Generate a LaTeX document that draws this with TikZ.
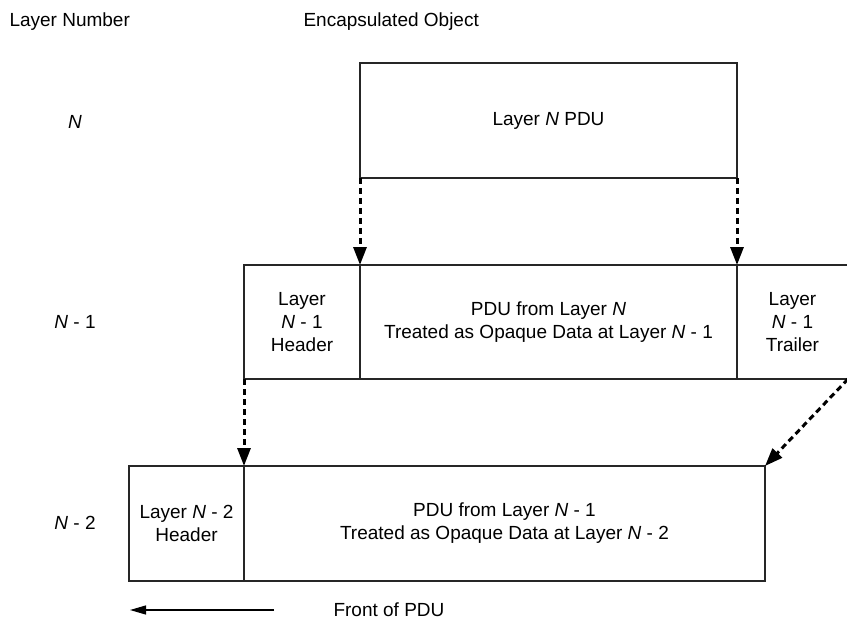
\documentclass[tikz,border=0pt]{standalone}
\usepackage{fontspec}
\setmainfont{Liberation Sans}
\usetikzlibrary{arrows.meta}

\tikzset{
  pdubox/.style={draw=black!85, line width=1.1pt, rectangle, inner sep=0pt,
    outer sep=0pt, anchor=north west, align=center},
  dotarrow/.style={line width=3pt, dash pattern=on 6pt off 4pt,
    -{Triangle[length=18pt,width=13pt]}},
  txt/.style={font=\fontsize{19}{23}\selectfont},
}

\begin{document}
\begin{tikzpicture}[x=1pt,y=-1pt,every node/.style={txt}]
\useasboundingbox (0,0) rectangle (847,622);
% column titles
\node[anchor=west] (titleLayer) at (6,22) {Layer Number};
\node[anchor=west] (titleObj) at (300,22) {Encapsulated Object};
% layer numbers
\node (labN) at (75,122) {\textit{N}};
\node (labNa) at (75,322) {\textit{N} - 1};
\node (labNb) at (75,523) {\textit{N} - 2};
% layer N
\node[pdubox, minimum width=377pt, minimum height=115pt] (layerN) at (360,63) {Layer \textit{N} PDU};
% layer N-1
\node[pdubox, minimum width=116pt, minimum height=114pt] (hdrA) at (244,265) {Layer\\\textit{N} - 1\\Header};
\node[pdubox, minimum width=377pt, minimum height=114pt] (bodyA) at (360,265) {PDU from Layer \textit{N}\\Treated as Opaque Data at Layer \textit{N} - 1};
\node[pdubox, minimum width=111pt, minimum height=114pt] (trlA) at (737,265) {Layer\\\textit{N} - 1\\Trailer};
% layer N-2
\node[pdubox, minimum width=115pt, minimum height=115pt] (hdrB) at (129,466) {Layer \textit{N} - 2\\Header};
\node[pdubox, minimum width=521pt, minimum height=115pt] (bodyB) at (244,466) {PDU from Layer \textit{N} - 1\\Treated as Opaque Data at Layer \textit{N} - 2};
% encapsulation arrows
\draw[dotarrow] (layerN.south west) -- (bodyA.north west);
\draw[dotarrow] (layerN.south east) -- (bodyA.north east);
\draw[dotarrow] (hdrA.south west) -- (bodyB.north west);
\draw[dotarrow] (trlA.south east) -- (bodyB.north east);
% front marker
\coordinate (frontStart) at (274,610);
\coordinate (frontEnd) at (130,610);
\draw[line width=1.2pt, -{Triangle[length=16pt,width=9pt]}] (frontStart) -- (frontEnd);
\node[anchor=west] (front) at (330,610) {Front of PDU};
\end{tikzpicture}
\end{document}
